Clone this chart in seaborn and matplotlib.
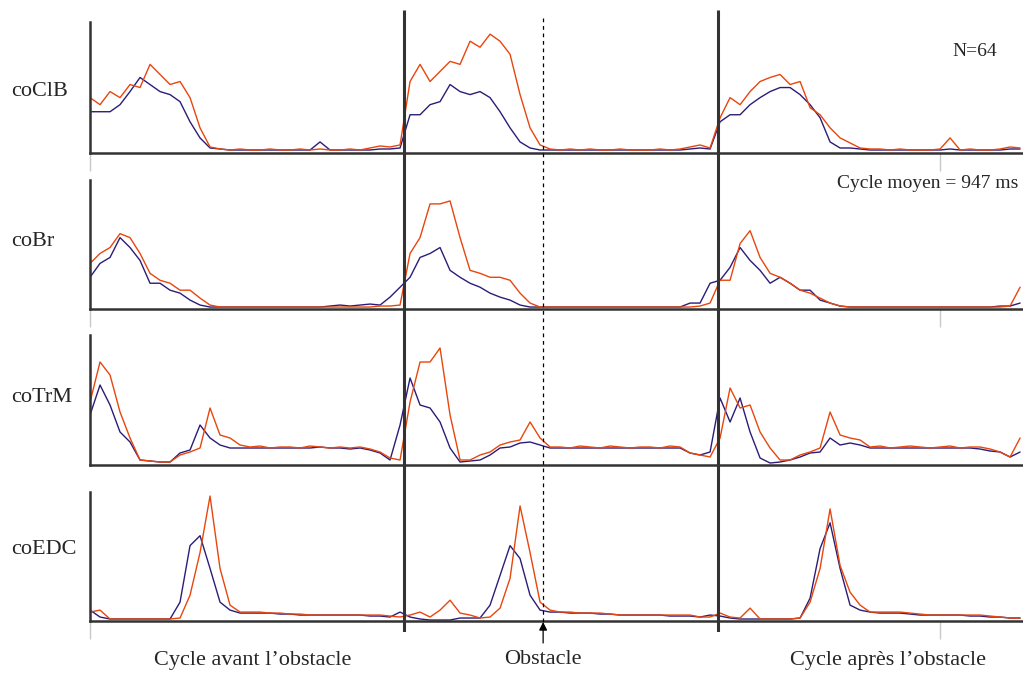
import numpy as np
import pandas as pd
import matplotlib.pyplot as plt
import seaborn as sns

# EMG envelopes, 3 consecutive cycles (percent of mean cycle)
muscles = ['coClB', 'coBr', 'coTrM', 'coEDC']
pct = np.linspace(0, 296.2, 94)

clb_blue = [41, 41, 41, 48, 61, 75, 68, 61, 58, 51,
            31, 15, 5, 4, 3, 3, 3, 3, 3, 3,
            3, 3, 3, 11, 3, 3, 3, 3, 3, 4,
            4, 5, 38, 38, 48, 51, 68, 61, 58, 61,
            55, 41, 25, 11, 5, 3, 3, 3, 3, 3,
            3, 3, 3, 3, 3, 3, 3, 3, 3, 3,
            4, 5, 4, 31, 38, 38, 48, 55, 61, 65,
            65, 58, 48, 35, 11, 5, 5, 4, 3, 3,
            3, 3, 3, 3, 3, 3, 4, 3, 3, 3,
            3, 3, 4, 4]
clb_orange = [55, 48, 61, 55, 68, 65, 88, 78, 68, 71,
              55, 25, 6, 4, 3, 4, 3, 3, 4, 3,
              3, 4, 3, 4, 3, 3, 4, 3, 5, 7,
              6, 8, 71, 88, 71, 81, 91, 88, 111, 105,
              118, 111, 98, 58, 25, 8, 4, 3, 4, 3,
              4, 3, 3, 4, 3, 3, 3, 4, 3, 4,
              6, 8, 5, 35, 55, 48, 61, 71, 75, 78,
              68, 71, 45, 38, 25, 15, 10, 5, 4, 4,
              3, 4, 3, 3, 3, 4, 15, 3, 4, 3,
              3, 4, 6, 5]

br_blue = [32, 46, 52, 72, 62, 49, 26, 26, 19, 16,
           9, 4, 2, 2, 2, 2, 2, 2, 2, 2,
           2, 2, 2, 2, 3, 4, 3, 4, 5, 4,
           12, 22, 32, 52, 56, 62, 39, 32, 26, 22,
           16, 12, 9, 4, 2, 2, 2, 2, 2, 2,
           2, 2, 2, 2, 2, 2, 2, 2, 2, 2,
           6, 6, 26, 29, 42, 62, 49, 39, 26, 32,
           26, 19, 19, 9, 6, 3, 2, 2, 2, 2,
           2, 2, 2, 2, 2, 2, 2, 2, 2, 2,
           2, 3, 3, 6]
br_orange = [46, 56, 62, 76, 72, 56, 36, 29, 26, 19,
             19, 11, 4, 2, 2, 2, 2, 2, 2, 2,
             2, 2, 2, 2, 2, 2, 2, 2, 2, 3,
             3, 4, 56, 72, 106, 106, 109, 72, 39, 36,
             32, 32, 29, 16, 6, 2, 2, 2, 2, 2,
             2, 2, 2, 2, 2, 2, 2, 2, 2, 2,
             2, 3, 6, 29, 29, 66, 79, 52, 36, 32,
             26, 19, 16, 11, 6, 3, 2, 2, 2, 2,
             2, 2, 2, 2, 2, 2, 2, 2, 2, 2,
             2, 2, 3, 22]

trm_blue = [50, 80, 60, 33, 23, 5, 4, 3, 3, 12,
            15, 40, 27, 20, 17, 17, 17, 17, 17, 17,
            17, 17, 17, 18, 17, 17, 16, 17, 15, 12,
            5, 40, 87, 60, 57, 43, 17, 3, 4, 5,
            10, 17, 18, 22, 23, 20, 17, 17, 17, 17,
            17, 17, 17, 17, 17, 17, 17, 17, 17, 17,
            12, 10, 13, 67, 43, 67, 33, 7, 2, 3,
            5, 8, 12, 13, 27, 20, 22, 20, 17, 17,
            17, 17, 17, 17, 17, 17, 17, 17, 17, 16,
            14, 13, 8, 13]
trm_orange = [63, 103, 90, 53, 27, 5, 4, 3, 3, 10,
              13, 17, 57, 30, 27, 20, 18, 19, 17, 18,
              18, 17, 19, 18, 17, 18, 17, 18, 16, 13,
              7, 5, 63, 103, 103, 117, 50, 5, 5, 10,
              13, 20, 23, 25, 43, 27, 18, 18, 17, 19,
              18, 17, 19, 18, 17, 18, 18, 17, 19, 18,
              12, 10, 8, 27, 77, 57, 60, 33, 17, 5,
              5, 10, 13, 17, 53, 30, 27, 25, 18, 19,
              17, 18, 19, 18, 17, 18, 19, 17, 18, 18,
              16, 13, 8, 27]

edc_blue = [11, 4, 2, 2, 2, 2, 2, 2, 2, 19,
            76, 86, 53, 19, 11, 8, 8, 8, 8, 7,
            7, 6, 6, 6, 6, 6, 6, 6, 5, 5,
            4, 9, 4, 2, 1, 1, 1, 3, 3, 3,
            16, 46, 76, 63, 26, 11, 9, 9, 8, 8,
            8, 7, 7, 6, 6, 6, 6, 6, 5, 5,
            5, 4, 6, 5, 3, 2, 2, 2, 2, 2,
            2, 3, 23, 73, 99, 53, 16, 11, 9, 8,
            8, 8, 7, 6, 6, 6, 6, 6, 5, 5,
            4, 4, 3, 3]
edc_orange = [9, 11, 2, 2, 2, 2, 2, 2, 2, 3,
              26, 69, 126, 53, 16, 9, 9, 9, 8, 8,
              7, 7, 6, 6, 6, 6, 6, 6, 6, 6,
              5, 4, 6, 9, 4, 11, 21, 8, 6, 3,
              4, 13, 43, 116, 69, 19, 11, 9, 9, 8,
              8, 8, 7, 6, 6, 6, 6, 6, 6, 6,
              6, 4, 4, 8, 4, 3, 13, 2, 2, 2,
              2, 3, 19, 53, 113, 56, 29, 16, 9, 9,
              9, 9, 8, 7, 6, 6, 6, 6, 6, 6,
              5, 4, 3, 3]

blues = [clb_blue, br_blue, trm_blue, edc_blue]
oranges = [clb_orange, br_orange, trm_orange, edc_orange]

BLUE = '#2c1c78'
ORANGE = '#e8460c'
AXC = '#333333'

sns.set_style('white')
plt.rcParams['font.family'] = ['Liberation Serif', 'DejaVu Serif']

fig = plt.figure(figsize=(10.23, 6.75), dpi=100)

# (bottom, height) of each row in figure fraction
rows = [(0.7733, 0.194), (0.5422, 0.191), (0.3111, 0.1926), (0.080, 0.191)]
label_y = [91, 242, 397, 550]

for i, m in enumerate(muscles):
    b, h = rows[i]
    ax = fig.add_axes([0.088, b, 0.911, h])
    df = pd.DataFrame({
        'pct': np.concatenate([pct, pct]),
        'emg': blues[i] + oranges[i],
        'cond': ['a'] * len(pct) + ['b'] * len(pct),
    })
    sns.lineplot(data=df, x='pct', y='emg', hue='cond', palette=[BLUE, ORANGE],
                 lw=1, legend=False, ax=ax, estimator=None)
    ax.set_xlim(0, 296.8)
    ax.set_ylim(0, 130)
    ax.set_xlabel('')
    ax.set_ylabel('')
    ax.set_yticks([])
    for s in ['top', 'right']:
        ax.spines[s].set_visible(False)
    for s in ['left', 'bottom']:
        ax.spines[s].set_color(AXC)
        ax.spines[s].set_linewidth(1.8)
    if i == 2:
        ax.set_xticks([])
    else:
        ax.set_xticks([0, 270.7])
        ax.tick_params(axis='x', bottom=True, direction='out', length=13,
                       color='#c8c8c8', width=1, labelbottom=False)
    ax.patch.set_alpha(0)
    fig.text(11 / 1023, 1 - label_y[i] / 675, m, ha='left', va='center', fontsize=16)

# overlay for cycle boundaries, obstacle marker (y in pixels from top)
ov = fig.add_axes([0.088, 1 - 632 / 675, 0.911, 622 / 675])
ov.set_xlim(0, 296.8)
ov.set_ylim(632, 10)
ov.axis('off')
ov.patch.set_alpha(0)
ov.vlines([100, 200], 10, 632, colors=AXC, lw=2.2)
ov.vlines(144.3, 18, 632, colors='black', lw=0.9, linestyles=(0, (3, 3)))
ov.annotate('', xy=(144.3, 622), xytext=(144.3, 643), annotation_clip=False,
            arrowprops=dict(arrowstyle='-|>', color='black', lw=0.9,
                            mutation_scale=12, shrinkA=0, shrinkB=0))

fig.text(975 / 1023, 1 - 52 / 675, 'N=64', ha='center', va='center', fontsize=14)
fig.text(1018 / 1023, 1 - 183 / 675, 'Cycle moyen = 947 ms', ha='right', va='center', fontsize=14)

fig.text(253 / 1023, 1 - 661 / 675, 'Cycle avant l\u2019obstacle', ha='center', va='center', fontsize=16)
fig.text(543 / 1023, 1 - 659 / 675, 'Obstacle', ha='center', va='center', fontsize=16)
fig.text(888 / 1023, 1 - 661 / 675, 'Cycle apr\u00e8s l\u2019obstacle', ha='center', va='center', fontsize=16)

fig.savefig('out.png', dpi=100)
